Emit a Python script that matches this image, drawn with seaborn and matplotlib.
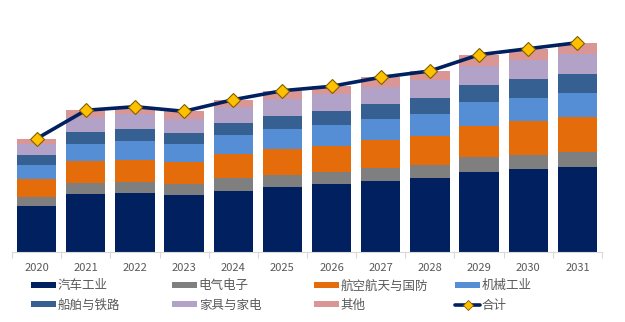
import numpy as np
import pandas as pd
import matplotlib
matplotlib.use("Agg")
import matplotlib.pyplot as plt
from matplotlib.lines import Line2D
from matplotlib.patches import Patch
import seaborn as sns

years = ["2020", "2021", "2022", "2023", "2024", "2025", "2026", "2027", "2028", "2029", "2030", "2031"]
series_names = ["汽车工业", "电气电子", "航空航天与国防", "机械工业", "船舶与铁路", "家具与家电", "其他"]
auto = [46.3, 58.3, 59.3, 57.0, 61.3, 65.3, 67.7, 70.7, 73.7, 80.3, 83.0, 85.3]
electric = [8.7, 10.7, 11.0, 11.0, 12.4, 12.0, 12.3, 13.3, 13.6, 14.4, 14.3, 15.0]
aerospace = [18.0, 22.0, 22.0, 22.0, 24.0, 26.0, 26.3, 27.7, 29.0, 31.6, 33.4, 34.4]
machinery = [14.0, 17.3, 18.7, 17.7, 19.0, 20.0, 20.7, 21.6, 21.4, 24.0, 23.6, 24.3]
ship_rail = [10.0, 11.4, 12.0, 11.3, 12.6, 13.0, 14.0, 14.7, 16.0, 16.7, 18.7, 19.0]
furniture = [11.0, 15.0, 14.7, 14.0, 15.4, 16.7, 16.7, 17.0, 18.3, 19.3, 19.3, 20.0]
other = [5.3, 7.0, 7.6, 7.7, 7.6, 8.3, 8.0, 9.7, 9.0, 11.0, 11.0, 11.3]
total_name = "合计"

colors = ["#002060", "#7F7F7F", "#E46C0A", "#558ED5", "#376092", "#B3A2C7", "#D99694"]

layers = [auto, electric, aerospace, machinery, ship_rail, furniture, other]
cum = np.cumsum(np.array(layers), axis=0)
totals = cum[-1]

sns.set_theme(style="white")
plt.rcParams["font.family"] = ["Noto Sans CJK SC", "DejaVu Sans"]

fig = plt.figure(figsize=(6.25, 3.22), dpi=100)
ax = fig.add_axes([12 / 625, 1 - 252 / 322, 590 / 625, 242 / 322])

# draw cumulative tops from the top layer down so each lower layer covers the upper
for i in range(len(layers) - 1, -1, -1):
    df = pd.DataFrame({"year": years, "value": cum[i]})
    sns.barplot(data=df, x="year", y="value", color=colors[i], saturation=1,
                width=0.8, ax=ax, edgecolor="none", linewidth=0)

line_df = pd.DataFrame({"x": np.arange(len(years)), "total": totals})
sns.lineplot(data=line_df, x="x", y="total", ax=ax, color="#002060", linewidth=2.6,
             marker="D", markersize=7, markerfacecolor="#FFC000",
             markeredgecolor="#7F6000", markeredgewidth=0.8, zorder=5)

ax.set_xlim(-0.5, len(years) - 0.5)
ax.set_ylim(0, 242)
ax.set_xlabel("")
ax.set_ylabel("")
ax.set_yticks([])
for s in ["top", "right", "left"]:
    ax.spines[s].set_visible(False)
ax.spines["bottom"].set_color("#D9D9D9")
ax.spines["bottom"].set_linewidth(0.8)
ax.set_xticks(np.arange(len(years)))
ax.set_xticklabels(years)
ax.set_xticks(np.arange(len(years) + 1) - 0.5, minor=True)
ax.tick_params(axis="x", which="major", length=0, pad=8, labelsize=8, labelcolor="#595959")
ax.tick_params(axis="x", which="minor", length=4, color="#D9D9D9", width=0.8, bottom=True)

handles = [Patch(facecolor=c, edgecolor="none") for c in colors]
handles.append(Line2D([0], [0], color="#002060", linewidth=2.6, marker="D", markersize=5,
                      markerfacecolor="#FFC000", markeredgecolor="#7F6000", markeredgewidth=0.6))
labels = series_names + [total_name]
col_x = [30.7, 172, 314, 455]
for c in range(4):
    idx = [c, c + 4]
    leg = fig.legend([handles[i] for i in idx], [labels[i] for i in idx],
                     ncol=1, loc="center left", bbox_to_anchor=(col_x[c] / 625, 1 - 295.5 / 322),
                     frameon=False, fontsize=9, handlelength=2.0, handleheight=0.4,
                     handletextpad=0.15, labelspacing=0.5,
                     borderaxespad=0, borderpad=0)
    for t in leg.get_texts():
        t.set_color("#595959")

fig.savefig("out.png", dpi=100)
